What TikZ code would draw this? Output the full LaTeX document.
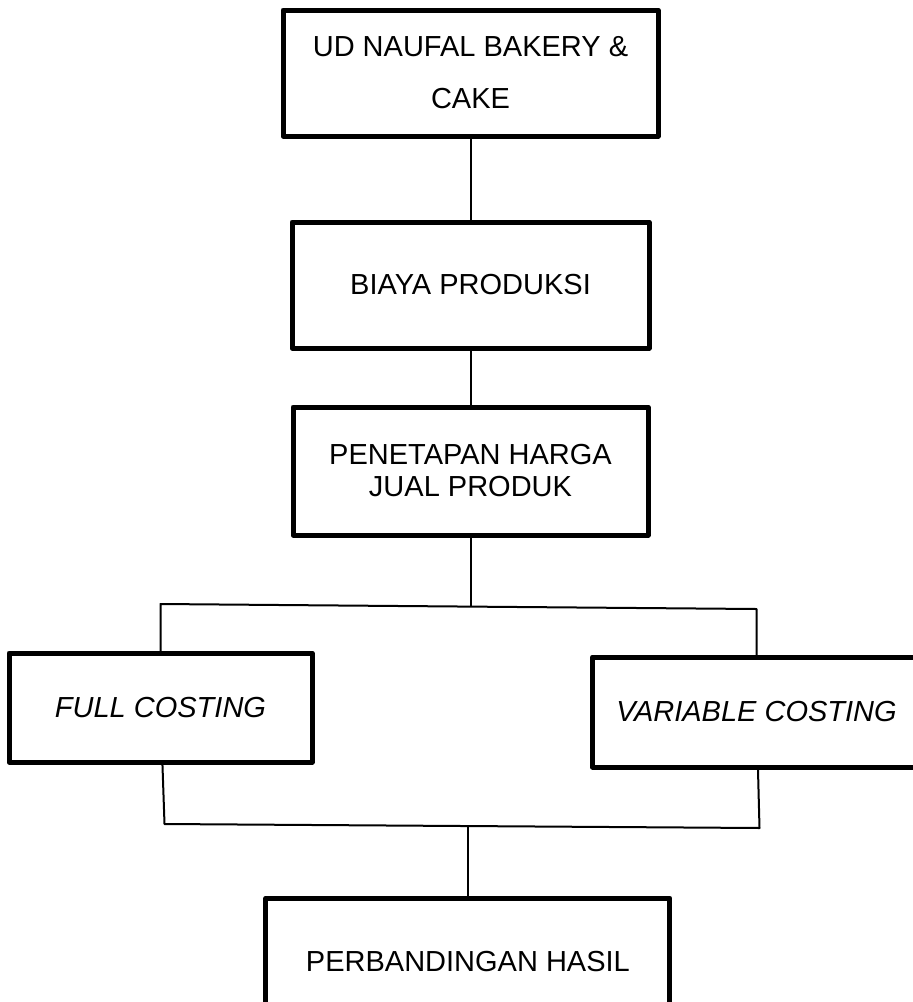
\documentclass[tikz,border=0pt]{standalone}
\usepackage{fontspec}
\setmainfont{Liberation Sans}
\usetikzlibrary{positioning,calc}
\tikzset {
  % box with a heavy frame
  block/.style = {
    draw = black,
    line width = 5pt,
    line join = round,
    rectangle,
    align = center,
    inner sep = 0,
    outer sep = 0,
    font = \fontsize{29}{35}\selectfont
  },
  % costing method box
  method/.style = {
    block,
    font = \fontsize{29}{35}\selectfont\itshape
  },
  % thin connecting line
  link/.style = {
    draw = black,
    line width = 2pt,
    line join = round
  }
}

\begin{document}
\begin{tikzpicture}[x=1pt, y=-1pt]
    \useasboundingbox (0,0) rectangle (913,1002);

    \node[block, minimum width=375pt, minimum height=126pt,
      font=\fontsize{29}{52}\selectfont] (ud) at (470.5,73)
      {UD NAUFAL BAKERY \&\\CAKE};

    \node[block, minimum width=357pt, minimum height=126pt] (biaya)
      [below=86pt of ud] {BIAYA PRODUKSI};

    \node[block, minimum width=355pt, minimum height=128pt,
      font=\fontsize{29}{32}\selectfont] (harga)
      [below=59pt of biaya] {PENETAPAN HARGA\\JUAL PRODUK};

    \coordinate[below=71pt of harga] (split);
    \coordinate[left=310pt of split, yshift=2pt] (split left);
    \coordinate[right=286pt of split, yshift=-3pt] (split right);

    \node[method, minimum width=303pt, minimum height=109pt] (full)
      [below=49pt of split left] {FULL COSTING};
    \node[method, minimum width=328pt, minimum height=110pt] (variable)
      [below=48pt of split right] {VARIABLE COSTING};

    \coordinate[below=62pt of full, xshift=4pt] (join left);
    \coordinate[below=61pt of variable, xshift=3pt] (join right);
    \coordinate (join) at ($(join left)!0.51!(join right)$);

    \node[block, minimum width=404pt, minimum height=126pt] (hasil)
      [below=72pt of join] {PERBANDINGAN HASIL};

    % main line
    \draw[link] (ud) -- (biaya);
    \draw[link] (biaya) -- (harga);
    \draw[link] (harga) -- (split);

    % fork into the two methods
    \draw[link] (full)
      -- (split left)
      -- (split right)
      -- (variable);

    % merge back
    \draw[link] (full)
      -- (join left)
      -- (join right)
      -- (variable);
    \draw[link] (join) -- (hasil);
\end{tikzpicture}
\end{document}
